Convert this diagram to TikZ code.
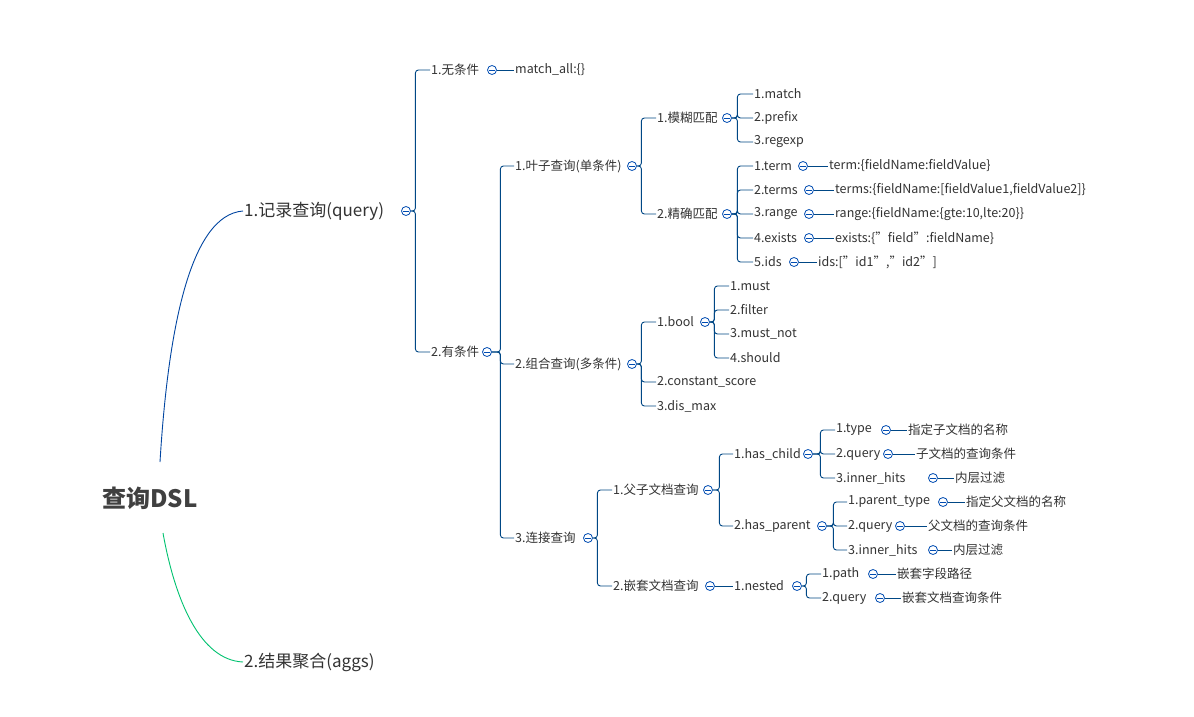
\documentclass[tikz,border=0pt]{standalone}
\usepackage{fontspec}
\setmainfont{Noto Sans CJK SC}
\begin{document}
\begin{tikzpicture}[x=1pt,y=-1pt,
  tx/.style={anchor=west,inner sep=1pt,text=black!80,font=\fontsize{12.5}{14}\selectfont},
  big/.style={anchor=west,inner sep=1pt,text=black!80,font=\fontsize{17}{19}\selectfont},
  br/.style={draw=teal!70!blue!80!black,line width=0.9pt,rounded corners=3pt},
  tog/.style={circle,draw=teal!60!blue,line width=0.8pt,fill=white,minimum size=9pt,inner sep=0pt,
    path picture={\draw[teal!60!blue,line width=0.8pt] ([xshift=-2.6pt]path picture bounding box.center) -- ([xshift=2.6pt]path picture bounding box.center);}}]
\useasboundingbox (0,0) rectangle (1194,717);
\fill[white] (0,0) rectangle (1194,717);
\newcommand\tg[3]{\node[tog] (#1) at (#2,#3) {};}
\newcommand\bk[3]{\foreach \c in {#3} \draw[br] (#1.east) -- ++(#2,0) |- (\c.west);}
\newcommand\lf[2]{\draw[br] (#1.east) -- (#2.west);}
% root
\node[text=black!75,font=\bfseries\fontsize{24}{26}\selectfont] (root) at (150,498) {查询DSL};
\node[big] (q) at (243,211) {1.记录查询(query)};
\node[big] (a) at (243,662) {2.结果聚合(aggs)};
\draw[teal!60!blue!90!black,line width=0.9pt] (160,462) .. controls (168,330) and (190,215) .. (q.west);
\draw[teal!60!green!80!cyan,line width=0.9pt] (163,533) .. controls (175,600) and (200,660) .. (a.west);
\tg{tq}{406}{211}
\node[tx] (n1) at (430,70) {1.无条件};
\node[tx] (n2) at (430,352) {2.有条件};
\bk{tq}{4.5}{n1,n2}
\tg{tn1}{492}{70}
\node[tx] (ma) at (514,70) {match\_all:\{\}};
\lf{tn1}{ma}
\tg{tn2}{487}{352}
\node[tx] (y1) at (514,166) {1.叶子查询(单条件)};
\node[tx] (y2) at (514,364) {2.组合查询(多条件)};
\node[tx] (y3) at (514,538) {3.连接查询};
\bk{tn2}{8.5}{y1,y2,y3}
% leaf queries
\tg{ty1}{632}{166}
\node[tx] (m1) at (656,118) {1.模糊匹配};
\node[tx] (m2) at (656,214) {2.精确匹配};
\bk{ty1}{4.5}{m1,m2}
\tg{tm1}{727}{118}
\node[tx] (f1) at (753,94) {1.match};
\node[tx] (f2) at (753,118) {2.prefix};
\node[tx] (f3) at (753,142) {3.regexp};
\bk{tm1}{5.5}{f1,f2,f3}
\tg{tm2}{727}{214}
\node[tx] (e1) at (753,166) {1.term};
\node[tx] (e2) at (753,190) {2.terms};
\node[tx] (e3) at (753,214) {3.range};
\node[tx] (e4) at (753,238) {4.exists};
\node[tx] (e5) at (753,262) {5.ids};
\bk{tm2}{5.5}{e1,e2,e3,e4,e5}
\tg{te1}{803}{166}\node[tx] (v1) at (828,166) {term:\{fieldName:fieldValue\}};\lf{te1}{v1}
\tg{te2}{809}{190}\node[tx] (v2) at (834,190) {terms:\{fieldName:[fieldValue1,fieldValue2]\}};\lf{te2}{v2}
\tg{te3}{809}{214}\node[tx] (v3) at (834,214) {range:\{fieldName:\{gte:10,lte:20\}\}};\lf{te3}{v3}
\tg{te4}{809}{238}\node[tx] (v4) at (834,238) {exists:\{"field":fieldName\}};\lf{te4}{v4}
\tg{te5}{794}{262}\node[tx] (v5) at (817,262) {ids:["id1","id2"]};\lf{te5}{v5}
% compound
\tg{ty2}{632}{364}
\node[tx] (c1) at (656,322) {1.bool};
\node[tx] (c2) at (656,382) {2.constant\_score};
\node[tx] (c3) at (656,406) {3.dis\_max};
\bk{ty2}{4.5}{c1,c2,c3}
\tg{tc1}{705}{322}
\node[tx] (b1) at (729,286) {1.must};
\node[tx] (b2) at (729,310) {2.filter};
\node[tx] (b3) at (729,334) {3.must\_not};
\node[tx] (b4) at (729,358) {4.should};
\bk{tc1}{4.5}{b1,b2,b3,b4}
% join
\tg{ty3}{588}{538}
\node[tx] (j1) at (612,490) {1.父子文档查询};
\node[tx] (j2) at (612,586) {2.嵌套文档查询};
\bk{ty3}{4.5}{j1,j2}
\tg{tj1}{708}{490}
\node[tx] (h1) at (733,454) {1.has\_child};
\node[tx] (h2) at (733,526) {2.has\_parent};
\bk{tj1}{6.5}{h1,h2}
\tg{th1}{808}{454}
\node[tx] (k1) at (835,430) {1.type};
\node[tx] (k2) at (835,454) {2.query};
\node[tx] (k3) at (835,478) {3.inner\_hits};
\bk{th1}{7.5}{k1,k2,k3}
\tg{tk1}{886}{430}\node[tx] (w1) at (907,430) {指定子文档的名称};\lf{tk1}{w1}
\tg{tk2}{888}{454}\node[tx] (w2) at (915,454) {子文档的查询条件};\lf{tk2}{w2}
\tg{tk3}{933}{478}\node[tx] (w3) at (954,478) {内层过滤};\lf{tk3}{w3}
\tg{th2}{822}{526}
\node[tx] (p1) at (847,502) {1.parent\_type};
\node[tx] (p2) at (847,526) {2.query};
\node[tx] (p3) at (847,550) {3.inner\_hits};
\bk{th2}{6.5}{p1,p2,p3}
\tg{tp1}{943}{502}\node[tx] (u1) at (965,502) {指定父文档的名称};\lf{tp1}{u1}
\tg{tp2}{900}{526}\node[tx] (u2) at (927,526) {父文档的查询条件};\lf{tp2}{u2}
\tg{tp3}{933}{550}\node[tx] (u3) at (952,550) {内层过滤};\lf{tp3}{u3}
\tg{tj2}{710}{586}
\node[tx] (ns) at (733,586) {1.nested};
\lf{tj2}{ns}
\tg{tns}{797}{586}
\node[tx] (s1) at (821,574) {1.path};
\node[tx] (s2) at (821,598) {2.query};
\bk{tns}{4.5}{s1,s2}
\tg{ts1}{873}{574}\node[tx] (z1) at (896,574) {嵌套字段路径};\lf{ts1}{z1}
\tg{ts2}{880}{598}\node[tx] (z2) at (901,598) {嵌套文档查询条件};\lf{ts2}{z2}
\end{tikzpicture}
\end{document}
